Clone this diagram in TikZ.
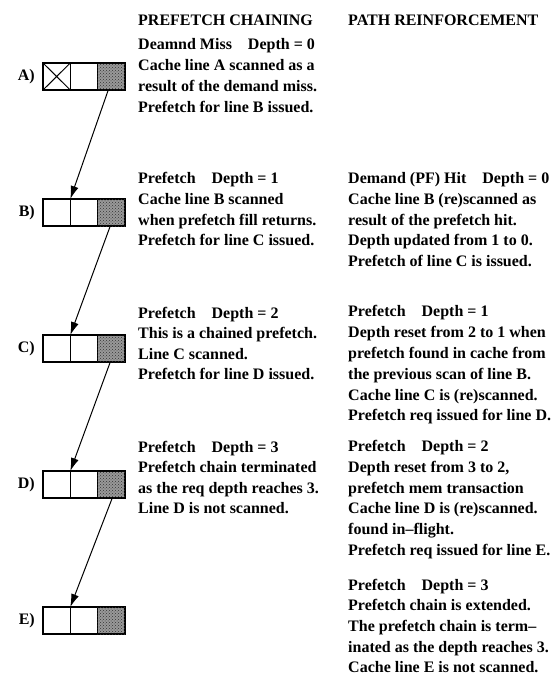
\documentclass[tikz,border=0pt]{standalone}
\usepackage{fontspec}
\setmainfont{Liberation Serif}
\usetikzlibrary{arrows.meta,patterns}
\begin{document}
\begin{tikzpicture}[x=1pt,y=-1pt,
  cell/.style={draw, line width=1.3pt, minimum width=27.3pt, minimum height=27pt, inner sep=0pt, outer sep=0pt},
  hot/.style={cell, fill=black!40, postaction={pattern=crosshatch dots, pattern color=black!80}},
  tx/.style={anchor=base west, inner sep=0pt, font=\fontsize{16}{20}\selectfont\bfseries},
  lbl/.style={anchor=east, inner sep=0pt, font=\fontsize{16}{20}\selectfont\bfseries},
  link/.style={line width=1pt, -{Latex[length=13pt,width=8pt]}}]
\useasboundingbox (0,0) rectangle (557,675);
% cache lines
\foreach \r/\y in {A/76.5,B/212.5,C/348.5,D/484.5,E/620.5}{
  \node[cell] (\r1) at (56.65,\y) {};
  \node[cell] (\r2) at (83.95,\y) {};
  \node[hot]  (\r3) at (111.25,\y) {};
  \node[lbl]  (\r lab) at (35,\y) {\r)};
}
\draw[line width=1pt] (A1.north west) -- (A1.south east) (A1.north east) -- (A1.south west);
% chain arrows
\draw[link] ([xshift=-3pt]A3.south) -- (B2.north west);
\draw[link] ([xshift=-1pt]B3.south) -- (C2.north west);
\draw[link] ([xshift=-1pt]C3.south) -- (D2.north west);
\draw[link] ([xshift=1pt]D3.south) -- (E2.north west);
% headers
\node[tx] (h1) at (138,25) {PREFETCH CHAINING};
\node[tx] (h2) at (348,25) {PATH REINFORCEMENT};
% column 1
\node[tx] (a1) at (138,49)  {Deamnd Miss\quad Depth = 0};
\node[tx] (a2) at (138,70)  {Cache line A scanned as a};
\node[tx] (a3) at (138,91)  {result of the demand miss.};
\node[tx] (a4) at (138,112) {Prefetch for line B issued.};
\node[tx] (b1) at (138,183) {Prefetch\quad Depth = 1};
\node[tx] (b2) at (138,204) {Cache line B scanned};
\node[tx] (b3) at (138,225) {when prefetch fill returns.};
\node[tx] (b4) at (138,245) {Prefetch for line C issued.};
\node[tx] (c1) at (138,318) {Prefetch\quad Depth = 2};
\node[tx] (c2) at (138,338) {This is a chained prefetch.};
\node[tx] (c3) at (138,359) {Line C scanned.};
\node[tx] (c4) at (138,379) {Prefetch for line D issued.};
\node[tx] (d1) at (138,452) {Prefetch\quad Depth = 3};
\node[tx] (d2) at (138,472) {Prefetch chain terminated};
\node[tx] (d3) at (138,493) {as the req depth reaches 3.};
\node[tx] (d4) at (138,513) {Line D is not scanned.};
% column 2
\node[tx] (p1) at (348,183) {Demand (PF) Hit\quad Depth = 0};
\node[tx] (p2) at (348,204) {Cache line B (re)scanned as};
\node[tx] (p3) at (348,225) {result of the prefetch hit.};
\node[tx] (p4) at (348,245) {Depth updated from 1 to 0.};
\node[tx] (p5) at (348,266) {Prefetch of line C is issued.};
\node[tx] (q1) at (348,316) {Prefetch\quad Depth = 1};
\node[tx] (q2) at (348,337) {Depth reset from 2 to 1 when};
\node[tx] (q3) at (348,358) {prefetch found in cache from};
\node[tx] (q4) at (348,379) {the previous scan of line B.};
\node[tx] (q5) at (348,400) {Cache line C is (re)scanned.};
\node[tx] (q6) at (348,420) {Prefetch req issued for line D.};
\node[tx] (r1) at (348,451) {Prefetch\quad Depth = 2};
\node[tx] (r2) at (348,472) {Depth reset from 3 to 2,};
\node[tx] (r3) at (348,493) {prefetch mem transaction};
\node[tx] (r4) at (348,513) {Cache line D is (re)scanned.};
\node[tx] (r5) at (348,534) {found in--flight.};
\node[tx] (r6) at (348,555) {Prefetch req issued for line E.};
\node[tx] (s1) at (348,590) {Prefetch\quad Depth = 3};
\node[tx] (s2) at (348,610) {Prefetch chain is extended.};
\node[tx] (s3) at (348,631) {The prefetch chain is term--};
\node[tx] (s4) at (348,652) {inated as the depth reaches 3.};
\node[tx] (s5) at (348,672) {Cache line E is not scanned.};
\end{tikzpicture}
\end{document}
